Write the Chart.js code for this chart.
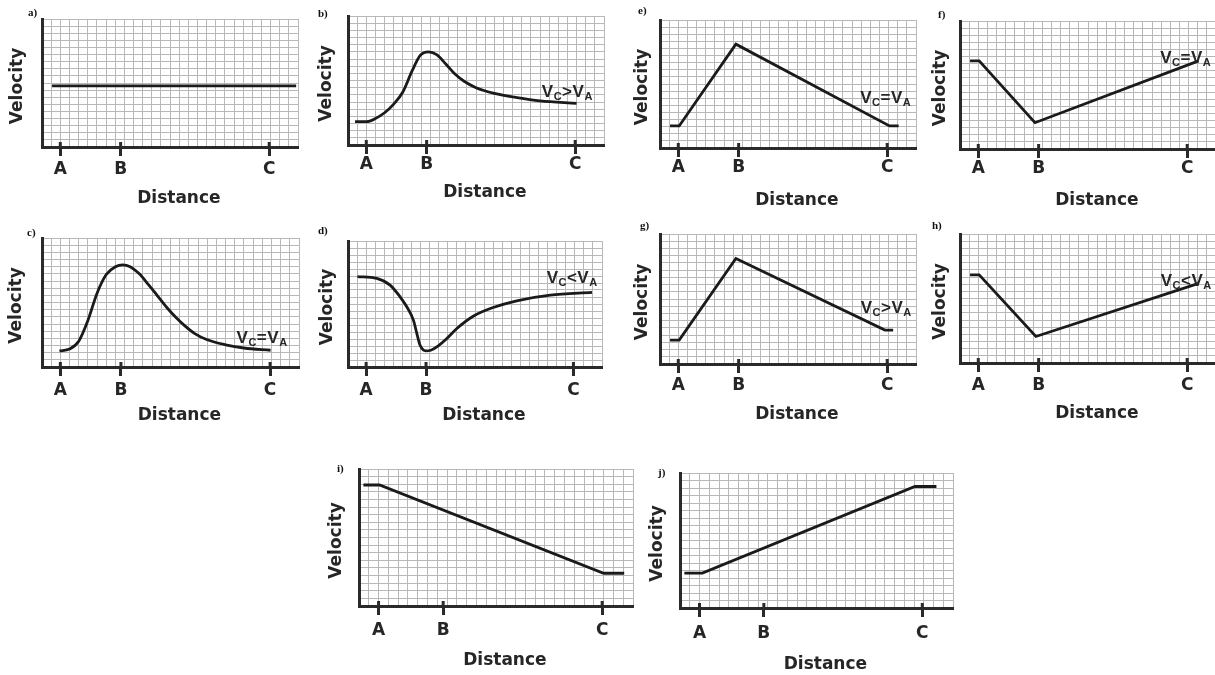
<!DOCTYPE html>
<html><head><meta charset="utf-8">
<script src="https://cdn.jsdelivr.net/npm/chart.js@4.4.1/dist/chart.umd.min.js"></script>
<style>
html,body{margin:0;padding:0;background:#fff;overflow:hidden;width:1215px;height:675px;position:relative;}
canvas{position:absolute;}
</style></head><body>
<script>
// ---- tick categories (distance markers) ----
const tickLabels = ['A', 'B', 'C'];
const tickPositions = [2, 8.6, 24.85];
const gridCols = 28;   // fine grid columns
const gridRows = 18;   // fine grid rows

// ---- series values (x in grid columns, y in grid rows) ----
const aX = [1.1, 27.8];
const aY = [8.6, 8.6];

const bX = [0.77, 2.04, 3.0, 4.0, 5.0, 6.0, 7.0, 7.9, 8.8, 9.7, 10.7, 11.7, 12.7, 14.0, 16.0, 18.5, 21.0, 25.0];
const bY = [3.25, 3.25, 3.7, 4.5, 5.7, 7.4, 10.3, 12.5, 13.0, 12.6, 11.3, 9.9, 8.9, 8.0, 7.2, 6.6, 6.15, 5.8];

const cX = [1.9, 3.0, 4.0, 5.0, 6.0, 7.0, 8.0, 8.8, 9.6, 10.6, 11.6, 12.6, 13.6, 14.6, 15.6, 16.6, 18.0, 20.0, 22.0, 24.9];
const cY = [2.24, 2.5, 3.6, 6.5, 10.3, 12.9, 14.0, 14.26, 14.0, 13.0, 11.5, 9.9, 8.3, 6.9, 5.7, 4.7, 3.8, 3.1, 2.65, 2.34];

const dX = [1.04, 3.17, 4.64, 5.74, 6.48, 7.21, 7.59, 7.95, 8.58, 9.13, 9.79, 10.9, 12.0, 13.8, 16.0, 18.6, 22.3, 26.9];
const dY = [12.9, 12.66, 11.7, 10.03, 8.6, 6.69, 4.78, 3.1, 2.29, 2.39, 2.87, 4.07, 5.5, 7.26, 8.5, 9.46, 10.27, 10.66];

const eX = [1.1, 2.1, 8.3, 25.1, 26.1];
const eY = [3.1, 3.1, 14.6, 3.1, 3.1];

const fX = [1.1, 2.1, 8.2, 26.1];
const fY = [12.4, 12.4, 3.7, 12.4];

const gX = [1.1, 2.1, 8.3, 24.6, 25.5];
const gY = [3.3, 3.3, 14.6, 4.7, 4.7];

const hX = [1.1, 2.1, 8.3, 26.1];
const hY = [12.3, 12.3, 3.7, 11.1];

const iX = [0.45, 2.1, 25.0, 27.1];
const iY = [15.9, 15.9, 4.3, 4.3];

const jX = [0.45, 2.3, 24.1, 26.3];
const jY = [4.65, 4.65, 16.2, 16.2];

// ---- annotations: relation symbol and anchor (grid units) ----
const notes = {
  b: {op: '>', x: 21.2, y: 6.7},
  c: {op: '=', x: 21.2, y: 3.3},
  d: {op: '<', x: 21.9, y: 12.0},
  e: {op: '=', x: 21.9, y: 6.3},
  f: {op: '=', x: 21.9, y: 12.1},
  g: {op: '>', x: 21.95, y: 7.1},
  h: {op: '<', x: 21.96, y: 10.7}
};

// ---- layout (page pixels) ----
const layouts = {
  a: {L: 42,  T: 19,  W: 256, H: 128, lab: [-14, -5.5], yGap: 24.5, tGap: 22,   dGap: 51},
  b: {L: 348, T: 16,  W: 256, H: 129, lab: [-30, -2],   yGap: 21.3, tGap: 19,   dGap: 47},
  c: {L: 42,  T: 238, W: 257, H: 129, lab: [-15, -4.5], yGap: 25.7, tGap: 23,   dGap: 47.5},
  d: {L: 348, T: 241, W: 254, H: 126, lab: [-30, -10],  yGap: 20.5, tGap: 23,   dGap: 47.5},
  e: {L: 660, T: 20,  W: 256, H: 128, lab: [-22, -8.5], yGap: 17.5, tGap: 19,   dGap: 52},
  f: {L: 960, T: 21,  W: 256, H: 128, lab: [-22, -6],   yGap: 19,   tGap: 18.5, dGap: 51},
  g: {L: 660, T: 234, W: 256, H: 130, lab: [-20, -7.5], yGap: 17.5, tGap: 21,   dGap: 49.7},
  h: {L: 960, T: 234, W: 256, H: 129, lab: [-28, -8],   yGap: 19.7, tGap: 21.7, dGap: 50},
  i: {L: 359, T: 469, W: 274, H: 137, lab: [-22, 0],    yGap: 22.3, tGap: 24,   dGap: 54},
  j: {L: 680, T: 473, W: 273, H: 135, lab: [-22, 0],    yGap: 22,   tGap: 25,   dGap: 55.7}
};

const PT = 15, PR = 8, YW = 45, XH = 70, TLEN = 9;
const GRID = '#b8b8b8', DARK = '#2a2a2a', TEXT = '#262626', LINE = '#1a1a1a';
const FS = 17, LH = 1.2, HALF = FS * LH / 2;
const titleFont = {family: 'DejaVu Sans', weight: 'bold', size: FS, lineHeight: LH};

function build(key, xs, ys, smooth) {
  const g = layouts[key];
  const note = notes[key];
  const cv = document.createElement('canvas');
  const w = YW + g.W + PR, h = PT + g.H + XH;
  cv.width = w; cv.height = h;
  cv.style.width = w + 'px'; cv.style.height = h + 'px';
  cv.style.left = (g.L - YW) + 'px';
  cv.style.top = (g.T - PT) + 'px';
  document.body.appendChild(cv);

  const deco = {
    id: 'deco' + key,
    afterDraw(chart) {
      const ctx = chart.ctx, a = chart.chartArea;
      const sx = chart.scales.x, sy = chart.scales.y;
      ctx.save();
      // tick marks crossing the axis
      ctx.strokeStyle = DARK; ctx.lineWidth = 3;
      tickPositions.forEach(v => {
        const px = sx.getPixelForValue(v);
        ctx.beginPath(); ctx.moveTo(px, a.bottom - 5); ctx.lineTo(px, a.bottom + 1); ctx.stroke();
      });
      // panel letter
      ctx.fillStyle = '#111';
      ctx.font = 'bold 11px "Liberation Serif"';
      ctx.textAlign = 'left'; ctx.textBaseline = 'middle';
      ctx.fillText(key + ')', a.left + g.lab[0], a.top + g.lab[1]);
      // relation annotation
      if (note) {
        let x = sx.getPixelForValue(note.x);
        const y = sy.getPixelForValue(note.y);
        const parts = [['V', 17, 0], ['C', 11, 3], [note.op, 17, 0], ['V', 17, 0], ['A', 11, 3]];
        ctx.fillStyle = TEXT; ctx.textBaseline = 'alphabetic';
        parts.forEach(([t, s, dy]) => {
          ctx.font = 'bold ' + s + 'px "Liberation Sans"';
          ctx.fillText(t, x, y + dy);
          x += ctx.measureText(t).width + 0.5;
        });
      }
      ctx.restore();
    }
  };

  new Chart(cv, {
    type: 'line',
    data: {datasets: [{
      data: xs.map((x, i) => ({x: x, y: ys[i]})),
      borderColor: LINE, borderWidth: 2.8, pointRadius: 0, fill: false,
      cubicInterpolationMode: smooth ? 'monotone' : 'default', tension: 0,
      borderCapStyle: 'butt', borderJoinStyle: 'miter'
    }]},
    options: {
      responsive: false, animation: false, devicePixelRatio: 1, events: [],
      layout: {padding: {left: 0, top: PT, right: PR, bottom: 0}},
      plugins: {legend: {display: false}, tooltip: {enabled: false}},
      scales: {
        x: {
          type: 'linear', min: 0, max: gridCols,
          afterBuildTicks: s => {
            const t = [];
            for (let k = 0; k <= gridCols; k++) t.push({value: k});
            tickPositions.forEach(v => t.push({value: v}));
            s.ticks = t;
          },
          afterFit: s => { s.height = XH; },
          grid: {
            color: c => c.index > gridCols ? 'rgba(0,0,0,0)' : GRID,
            lineWidth: 1, drawTicks: true, tickLength: TLEN,
            tickColor: c => c.index > gridCols ? DARK : 'rgba(0,0,0,0)',
            tickWidth: 3
          },
          border: {display: true, color: DARK, width: 3},
          ticks: {
            autoSkip: false, maxRotation: 0, minRotation: 0,
            padding: Math.max(0, g.tGap - TLEN - HALF + 1),
            font: titleFont, color: TEXT,
            callback: (v, i) => i > gridCols ? tickLabels[i - gridCols - 1] : ''
          },
          title: {display: true, text: '   Distance', font: titleFont, color: TEXT,
                  padding: {top: 0, bottom: XH - g.dGap - HALF - 1}}
        },
        y: {
          type: 'linear', min: 0, max: gridRows,
          afterBuildTicks: s => {
            const t = [];
            for (let k = 0; k <= gridRows; k++) t.push({value: k});
            s.ticks = t;
          },
          afterFit: s => { s.width = YW; },
          grid: {color: GRID, lineWidth: 1, drawTicks: false},
          border: {display: true, color: DARK, width: 3},
          ticks: {display: false},
          title: {display: true, text: 'Velocity ', font: titleFont, color: TEXT,
                  padding: {top: YW - g.yGap - HALF, bottom: 0}}
        }
      }
    },
    plugins: [deco]
  });
}

build('a', aX, aY, false);
build('b', bX, bY, true);
build('c', cX, cY, true);
build('d', dX, dY, true);
build('e', eX, eY, false);
build('f', fX, fY, false);
build('g', gX, gY, false);
build('h', hX, hY, false);
build('i', iX, iY, false);
build('j', jX, jY, false);
</script>
</body></html>
